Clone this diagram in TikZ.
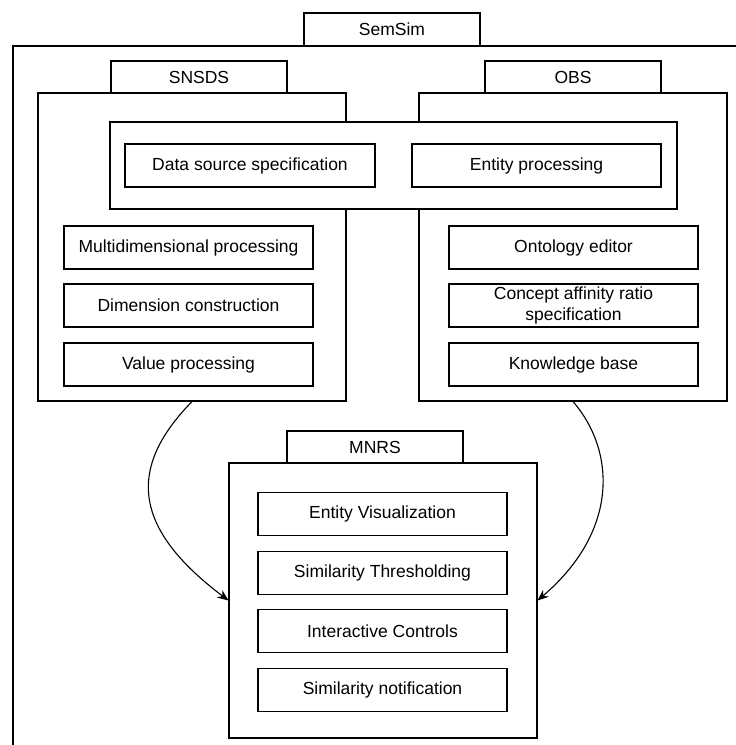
\documentclass[tikz,border=0pt]{standalone}
\usepackage{fontspec}
\setmainfont{Liberation Sans}
\usetikzlibrary{arrows.meta}
\begin{document}
\begin{tikzpicture}[x=1pt,y=-1pt,
  box/.style={draw=black, line width=1.1pt, fill=white, inner sep=0pt, align=center,
    font=\fontsize{17.5}{21.5}\selectfont, text=black},
  tab/.style={box, minimum width=176pt, minimum height=32pt},
  item/.style={box, minimum width=249pt, minimum height=43pt},
  flow/.style={draw=black, line width=1.1pt, -{Stealth[length=11pt,width=9pt]}}]
\useasboundingbox (0,0) rectangle (736,745);
\clip (0,0) rectangle (736,745);
% outer SemSim container (extends past the picture)
\node[box, minimum width=760pt, minimum height=740pt] (semsim) at (393,416) {};
\node[tab, minimum height=33pt] (semsimtab) at (392,29.5) {SemSim};
% SNSDS
\node[tab] (snsdstab) at (199,77) {SNSDS};
\node[box, minimum width=308pt, minimum height=308pt] (snsds) at (192,247) {};
% OBS
\node[tab] (obstab) at (573,77) {OBS};
\node[box, minimum width=308pt, minimum height=308pt] (obs) at (573,247) {};
% shared box
\node[box, minimum width=567pt, minimum height=87pt] (shared) at (393.5,165.5) {};
\node[item, minimum width=250pt] (dss) at (250,165.5) {Data source specification};
\node[item] (ep) at (536.5,165.5) {Entity processing};
% SNSDS items
\node[item] (mdp) at (188.5,247.5) {Multidimensional processing};
\node[item] (dc) at (188.5,305.5) {Dimension construction};
\node[item] (vp) at (188.5,364.5) {Value processing};
% OBS items
\node[item] (oe) at (573.5,247.5) {Ontology editor};
\node[item] (car) at (573.5,305.5) {Concept affinity ratio\\specification};
\node[item] (kb) at (573.5,364.5) {Knowledge base};
% MNRS
\node[tab] (mnrstab) at (375,447) {MNRS};
\node[box, minimum width=308pt, minimum height=275pt] (mnrs) at (383,600.5) {};
\node[item] (ev) at (382.5,514) {Entity Visualization};
\node[item] (st) at (382.5,573) {Similarity Thresholding};
\node[item] (ic) at (382.5,631) {Interactive Controls};
\node[item] (sn) at (382.5,690) {Similarity notification};
% connectors
\draw[flow] (snsds.south) .. controls (125,470) and (135,530) .. (mnrs.west);
\draw[flow] (obs.south) .. controls (615,450) and (620,530) .. (mnrs.east);
\end{tikzpicture}
\end{document}
